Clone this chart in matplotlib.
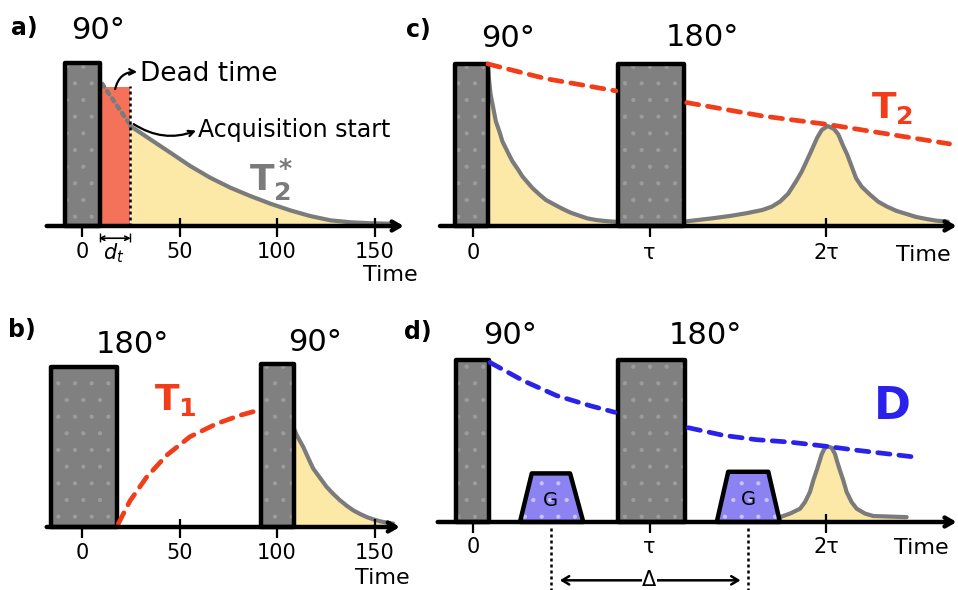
import matplotlib
matplotlib.use('Agg')
import matplotlib.pyplot as plt
from matplotlib.patches import Polygon

plt.rcParams['font.family'] = ['DejaVu Sans']
plt.rcParams['mathtext.fontset'] = 'dejavusans'
plt.rcParams['hatch.linewidth'] = 0.6

# ---------------- data ----------------
# Panel a : FID after a 90 deg pulse, with dead time
a_ticks = [0, 50, 100, 150]
a_tick_labels = ['0', '50', '100', '150']
a_pulse_start = [-8.6]
a_pulse_end = [9.0]
a_pulse_height = [1.0]
a_dead_start = [9.0]
a_dead_end = [24.8]
a_dead_height = [0.85]
a_dead_time = [10.3, 17.0, 23.9]
a_dead_signal = [0.873, 0.755, 0.634]
a_fid_time = [24.8, 35.0, 45.3, 55.5, 65.8, 76.1, 86.3, 96.6, 106.8, 117.1,
              127.3, 137.6, 147.8, 158.1]
a_fid_signal = [0.613, 0.532, 0.450, 0.368, 0.296, 0.235, 0.184, 0.137, 0.096,
                0.061, 0.035, 0.023, 0.017, 0.014]

# Panel b : inversion recovery (T1)
b_ticks = [0, 50, 100, 150]
b_tick_labels = ['0', '50', '100', '150']
b_pulse_start = [-16.0, 91.6]
b_pulse_end = [17.8, 108.7]
b_pulse_height = [0.98, 1.0]
b_t1_time = [18.6, 24.6, 33.2, 43.4, 55.4, 69.1, 81.0, 90.4]
b_t1_signal = [0.02, 0.16, 0.307, 0.44, 0.554, 0.634, 0.685, 0.716]
b_fid_time = [108.7, 110.1, 113.5, 116.1, 118.6, 122.2, 125.5, 129.1, 132.3,
              135.7, 139.1, 142.6, 146.0, 149.4, 152.8, 156.3, 159.6]
b_fid_signal = [0.604, 0.564, 0.49, 0.421, 0.358, 0.299, 0.245, 0.20, 0.164,
                0.131, 0.102, 0.08, 0.061, 0.047, 0.035, 0.027, 0.021]

# Panel c : spin echo (T2)
c_ticks = [0, 1, 2]
c_tick_labels = ['0', 'τ', '2τ']
c_pulse_start = [-0.102, 0.822]
c_pulse_end = [0.085, 1.195]
c_pulse_height = [1.0, 1.0]
c_fid_time = [0.085, 0.092, 0.10, 0.115, 0.129, 0.153, 0.166, 0.20, 0.223,
              0.257, 0.28, 0.313, 0.337, 0.38, 0.413, 0.465, 0.507, 0.554,
              0.602, 0.648, 0.697, 0.748, 0.792, 0.822]
c_fid_signal = [0.98, 0.89, 0.81, 0.727, 0.648, 0.572, 0.524, 0.449, 0.40,
                0.346, 0.306, 0.264, 0.234, 0.191, 0.161, 0.13, 0.106, 0.082,
                0.064, 0.047, 0.037, 0.031, 0.027, 0.025]
c_echo_time = [1.195, 1.36, 1.456, 1.55, 1.64, 1.692, 1.74, 1.786, 1.83,
               1.862, 1.89, 1.919, 1.95, 1.976, 2.01, 2.045, 2.07, 2.095,
               2.12, 2.146, 2.17, 2.202, 2.25, 2.296, 2.345, 2.40, 2.46,
               2.51, 2.57, 2.625, 2.69]
c_echo_signal = [0.027, 0.048, 0.062, 0.079, 0.099, 0.119, 0.151, 0.20, 0.275,
                 0.335, 0.40, 0.469, 0.545, 0.593, 0.617, 0.599, 0.565, 0.50,
                 0.441, 0.366, 0.296, 0.243, 0.193, 0.15, 0.12, 0.093, 0.073,
                 0.056, 0.043, 0.033, 0.027]
c_t2_time_1 = [0.085, 0.41, 0.81]
c_t2_signal_1 = [1.0, 0.91, 0.834]
c_t2_time_2 = [1.21, 1.64, 2.01, 2.70]
c_t2_signal_2 = [0.762, 0.679, 0.627, 0.507]

# Panel d : pulsed-field-gradient spin echo (D)
d_ticks = [0, 1, 2]
d_tick_labels = ['0', 'τ', '2τ']
d_pulse_start = [-0.096, 0.823]
d_pulse_end = [0.091, 1.201]
d_pulse_height = [1.0, 1.0]
d_grad_bottom_left = [0.266, 1.381]
d_grad_top_left = [0.333, 1.446]
d_grad_top_right = [0.55, 1.673]
d_grad_bottom_right = [0.625, 1.739]
d_grad_height = [0.30, 0.31]
d_grad_labels = ['G', 'G']
d_delta_marks = [0.442, 1.556]
d_diff_time_1 = [0.096, 0.285, 0.474, 0.663, 0.805]
d_diff_signal_1 = [0.985, 0.872, 0.780, 0.718, 0.677]
d_diff_time_2 = [1.22, 1.418, 1.607, 1.796, 2.004, 2.174, 2.495]
d_diff_signal_2 = [0.582, 0.535, 0.508, 0.493, 0.467, 0.443, 0.402]
d_echo_time = [1.739, 1.796, 1.853, 1.881, 1.909, 1.928, 1.947, 1.962, 1.976,
               1.994, 2.013, 2.032, 2.051, 2.064, 2.079, 2.098, 2.117, 2.145,
               2.174, 2.221, 2.268, 2.457]
d_echo_signal = [0.03, 0.052, 0.082, 0.123, 0.185, 0.257, 0.318, 0.37, 0.42,
                 0.458, 0.466, 0.458, 0.42, 0.37, 0.318, 0.257, 0.185, 0.123,
                 0.082, 0.052, 0.037, 0.03]

# ---------------- style ----------------
GREY_FILL = '#808080'
YELLOW = '#FCE9A8'
CURVE = '#7b7b7b'
RED = '#F23D1A'
DEAD = '#F4725A'
BLUE = '#2A22EA'
PURPLE = '#8C82F2'

W, H = 958, 590
fig = plt.figure(figsize=(W / 100, H / 100), dpi=100)


def make_panel(box, x0, xs, y0, ys):
    l, t, r, b = box
    ax = fig.add_axes([l / W, 1 - b / H, (r - l) / W, (b - t) / H])
    ax.set_xlim((l - x0) / xs, (r - x0) / xs)
    ax.set_ylim((y0 - b) / ys, (y0 - t) / ys)
    ax.axis('off')
    return ax


def pulses(ax, start, end, height, color=GREY_FILL):
    widths = [e - s for s, e in zip(start, end)]
    ax.bar(start, height, width=widths, align='edge', color=color,
           edgecolor='none', zorder=3)
    ax.bar(start, height, width=widths, align='edge', fill=False,
           hatch='.', edgecolor='#9c9c9c', linewidth=0, zorder=3.1)
    ax.bar(start, height, width=widths, align='edge', fill=False,
           edgecolor='black', linewidth=3.2, joinstyle='round', zorder=3.2)


def time_axis(ax, x_start, x_end, ticks, labels, label_y, time_xy):
    ax.annotate('', xy=(x_end, 0), xytext=(x_start, 0),
                arrowprops=dict(arrowstyle='->,head_length=0.55,head_width=0.32',
                                lw=3.2, color='black', shrinkA=0, shrinkB=0),
                zorder=5)
    ax.vlines(ticks, -0.065, 0.05, color='black', lw=1.6, zorder=2.5)
    for tk, lb in zip(ticks, labels):
        ax.text(tk, label_y, lb, ha='center', va='center', fontsize=15)
    ax.text(time_xy[0], time_xy[1], 'Time', ha='center', va='center',
            fontsize=16)


def signal(ax, t, s, fill=True):
    if fill:
        ax.fill_between(t, 0, s, color=YELLOW, lw=0, zorder=1)
    ax.plot(t, s, color=CURVE, lw=3.0, solid_capstyle='round',
            solid_joinstyle='round', zorder=2)


def dashed(ax, t, s, color):
    ax.plot(t, s, color=color, lw=3.4, linestyle=(0, (2.6, 1.9)),
            dash_capstyle='round', zorder=4)


# ---------------- panel a ----------------
axa = make_panel((0, 0, 420, 295), 82, 1.95, 226, 163)
axa.bar(a_dead_start, a_dead_height,
        width=[e - s for s, e in zip(a_dead_start, a_dead_end)],
        align='edge', color=DEAD, edgecolor='none', zorder=1)
signal(axa, a_fid_time, a_fid_signal)
axa.plot(a_dead_time, a_dead_signal, color=CURVE, lw=3.2,
         linestyle=(0, (0.8, 1.2)), dash_capstyle='round', zorder=2)
axa.vlines(a_dead_end, 0, 0.86, color='black', lw=1.8,
           linestyles=(0, (1.2, 1.2)), zorder=2.5)
pulses(axa, a_pulse_start, a_pulse_end, a_pulse_height)
time_axis(axa, -18.1, 165, a_ticks, a_tick_labels, -0.16, (158, -0.30))
axa.text(-29.7, 1.215, 'a)', fontsize=17, fontweight='bold',
         ha='center', va='center')
axa.text(8.2, 1.20, '90°', fontsize=22, ha='center', va='center')
axa.text(29.5, 0.93, 'Dead time', fontsize=19, ha='left', va='center')
axa.annotate('', xy=(28.3, 0.945), xytext=(17.0, 0.84),
             arrowprops=dict(arrowstyle='->', lw=1.6, color='black',
                             connectionstyle='arc3,rad=-0.4',
                             shrinkA=0, shrinkB=0))
axa.text(59.6, 0.59, 'Acquisition start', fontsize=17, ha='left',
         va='center')
axa.annotate('', xy=(58.5, 0.585), xytext=(26.5, 0.625),
             arrowprops=dict(arrowstyle='->', lw=1.6, color='black',
                             connectionstyle='arc3,rad=0.25',
                             shrinkA=0, shrinkB=0))
axa.text(97, 0.28, r'$\mathbf{T_2^*}$', fontsize=26, color=CURVE,
         ha='center', va='center')
axa.annotate('', xy=(25.0, -0.075), xytext=(8.6, -0.075),
             arrowprops=dict(arrowstyle='<->,head_length=0.3,head_width=0.15',
                             lw=1.2, color='black', shrinkA=0, shrinkB=0))
axa.vlines([a_pulse_end[0], a_dead_end[0]], -0.10, -0.04, color='black', lw=1.0)
axa.text(16.5, -0.165, r'$d_t$', fontsize=15, ha='center', va='center')

# ---------------- panel b ----------------
axb = make_panel((0, 295, 420, 590), 82, 1.95, 527, 163)
signal(axb, b_fid_time, b_fid_signal)
dashed(axb, b_t1_time, b_t1_signal, RED)
pulses(axb, b_pulse_start, b_pulse_end, b_pulse_height)
time_axis(axb, -18.1, 163, b_ticks, b_tick_labels, -0.16, (154, -0.31))
axb.text(-30.8, 1.21, 'b)', fontsize=17, fontweight='bold',
         ha='center', va='center')
axb.text(25.6, 1.12, '180°', fontsize=22, ha='center', va='center')
axb.text(119.5, 1.13, '90°', fontsize=22, ha='center', va='center')
axb.text(47.7, 0.78, r'$\mathbf{T_1}$', fontsize=26, color=RED,
         ha='center', va='center')

# ---------------- panel c ----------------
axc = make_panel((420, 0, 958, 295), 473, 176.5, 226, 162)
signal(axc, c_fid_time, c_fid_signal)
signal(axc, c_echo_time, c_echo_signal)
dashed(axc, c_t2_time_1, c_t2_signal_1, RED)
dashed(axc, c_t2_time_2, c_t2_signal_2, RED)
pulses(axc, c_pulse_start, c_pulse_end, c_pulse_height)
time_axis(axc, -0.187, 2.74, c_ticks, c_tick_labels, -0.167, (2.55, -0.18))
axc.text(-0.312, 1.21, 'c)', fontsize=17, fontweight='bold',
         ha='center', va='center')
axc.text(0.20, 1.16, '90°', fontsize=22, ha='center', va='center')
axc.text(1.30, 1.165, '180°', fontsize=22, ha='center', va='center')
axc.text(2.374, 0.728, r'$\mathbf{T_2}$', fontsize=26, color=RED,
         ha='center', va='center')

# ---------------- panel d ----------------
axd = make_panel((420, 295, 958, 590), 473, 176.5, 522, 162)
signal(axd, d_echo_time, d_echo_signal)
dashed(axd, d_diff_time_1, d_diff_signal_1, BLUE)
dashed(axd, d_diff_time_2, d_diff_signal_2, BLUE)
pulses(axd, d_pulse_start, d_pulse_end, d_pulse_height)
for bl, tl, tr, br, h, lb in zip(d_grad_bottom_left, d_grad_top_left,
                                 d_grad_top_right, d_grad_bottom_right,
                                 d_grad_height, d_grad_labels):
    pts = [(bl, 0), (tl, h), (tr, h), (br, 0)]
    axd.add_patch(Polygon(pts, closed=True, facecolor=PURPLE,
                          edgecolor='none', zorder=3))
    axd.add_patch(Polygon(pts, closed=True, fill=False, hatch='.',
                          edgecolor='#c9c4fa', linewidth=0, zorder=3.1))
    axd.add_patch(Polygon(pts, closed=True, fill=False, edgecolor='black',
                          linewidth=3.2, joinstyle='round', zorder=3.2))
    axd.text((tl + tr) / 2, h * 0.45, lb, fontsize=14, ha='center',
             va='center', zorder=4)
time_axis(axd, -0.2, 2.74, d_ticks, d_tick_labels, -0.154, (2.54, -0.16))
axd.vlines(d_delta_marks, -0.45, -0.02, color='black', lw=1.8,
           linestyles=(0, (1.2, 1.2)))
axd.annotate('', xy=(d_delta_marks[1] - 0.04, -0.36),
             xytext=(d_delta_marks[0] + 0.05, -0.36),
             arrowprops=dict(arrowstyle='<->,head_length=0.5,head_width=0.3',
                             lw=1.8, color='black', shrinkA=0, shrinkB=0))
axd.text((d_delta_marks[0] + d_delta_marks[1]) / 2, -0.36, 'Δ',
         fontsize=15, ha='center', va='center',
         bbox=dict(facecolor='white', edgecolor='none', pad=0.5))
axd.text(-0.312, 1.17, 'd)', fontsize=17, fontweight='bold',
         ha='center', va='center')
axd.text(0.21, 1.154, '90°', fontsize=22, ha='center', va='center')
axd.text(1.314, 1.154, '180°', fontsize=22, ha='center', va='center')
axd.text(2.374, 0.71, 'D', fontsize=32, fontweight='bold', color=BLUE,
         ha='center', va='center')

fig.savefig('out.png', dpi=100)
